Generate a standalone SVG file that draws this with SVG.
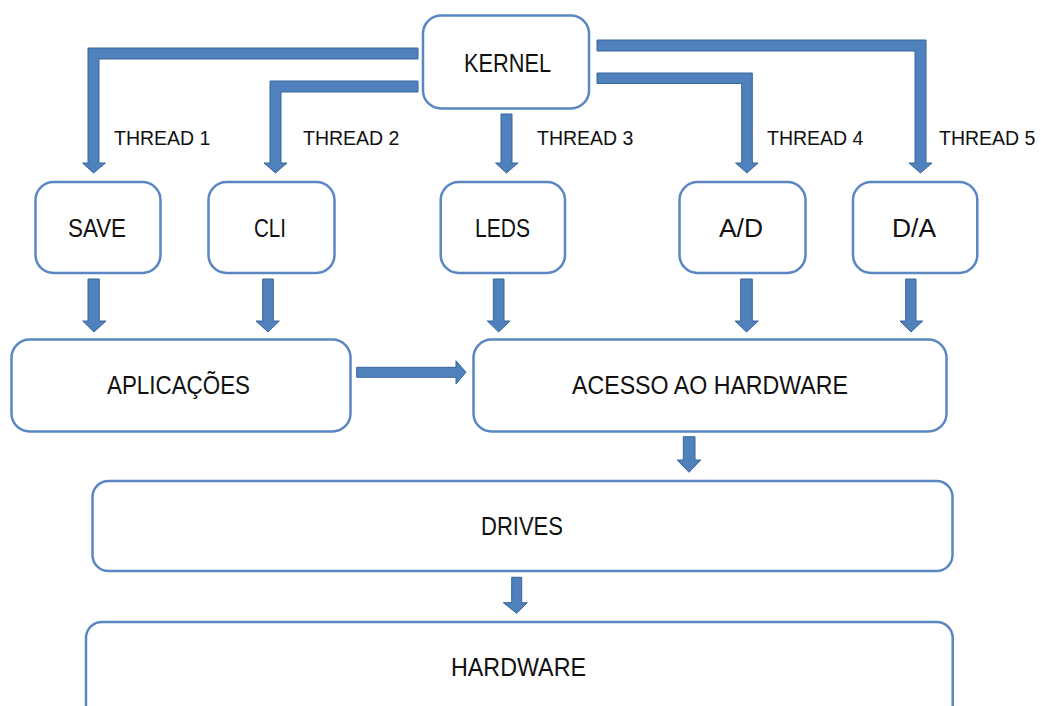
<svg xmlns="http://www.w3.org/2000/svg" width="1041" height="706" viewBox="0 0 1041 706">
<style>
.box{fill:#fff;stroke:#5a87c2;stroke-width:2.5}
.arr{fill:#4f81bd;stroke:#3a649a;stroke-width:1}
.t{font-family:"Liberation Sans",Arial,sans-serif;font-size:25px;fill:#111}
.lb{font-family:"Liberation Sans",Arial,sans-serif;font-size:19.5px;fill:#111}
</style>
<rect width="1041" height="706" fill="#fff"/>
<g id="connectors">
<path class="arr" d="M418,48 H88 V163 H82.5 L93.5,173 L105.5,163 H99 V59 H418 Z"/>
<path class="arr" d="M418,81 H270 V163 H264 L275.5,173 L287,163 H281 V92 H418 Z"/>
<path class="arr" d="M501,114 V163 H495.5 L506.5,173 L518,163 H512 V114 Z"/>
<path class="arr" d="M597,73 H752.3 V163 H758 L747,173 L735.5,163 H741.7 V83.5 H597 Z"/>
<path class="arr" d="M597,40 H926 V163 H932 L920.5,173 L909,163 H915 V51 H597 Z"/>
<path class="arr" d="M88,279 V321 H82.7 L94,332 L106,321 H99.3 V279 Z"/>
<path class="arr" d="M262.7,279 V321 H256 L268,332 L279.3,321 H273.3 V279 Z"/>
<path class="arr" d="M493.3,279 V321 H487.3 L498.7,332 L510,321 H504 V279 Z"/>
<path class="arr" d="M740.7,279 V321 H735 L746.5,332 L758.3,321 H752.3 V279 Z"/>
<path class="arr" d="M905.7,279 V321 H900 L911,332 L922.7,321 H916 V279 Z"/>
<path class="arr" d="M356.7,367.3 H456 V360.7 L466,372.3 L456,384 V377.3 H356.7 Z"/>
<path class="arr" d="M683.3,436.7 V460 H677.3 L689,472.3 L700.7,460 H695 V436.7 Z"/>
<path class="arr" d="M511.7,577.3 V602.7 H503.3 L516.7,613.3 L527.3,602.7 H521.7 V577.3 Z"/>
</g>
<g id="kernel"><rect class="box" x="423" y="15.5" width="166" height="93" rx="18"/><text class="t" x="464" y="72" textLength="87" lengthAdjust="spacingAndGlyphs">KERNEL</text></g>
<g id="save"><rect class="box" x="35.5" y="182" width="125" height="91" rx="18"/><text class="t" x="68" y="237" textLength="58" lengthAdjust="spacingAndGlyphs">SAVE</text></g>
<g id="cli"><rect class="box" x="208.5" y="182" width="126" height="91" rx="18"/><text class="t" x="254" y="237" textLength="32" lengthAdjust="spacingAndGlyphs">CLI</text></g>
<g id="leds"><rect class="box" x="440.7" y="182" width="124.3" height="91" rx="18"/><text class="t" x="475" y="237" textLength="55" lengthAdjust="spacingAndGlyphs">LEDS</text></g>
<g id="ad"><rect class="box" x="679.5" y="182" width="126" height="91" rx="18"/><text class="t" x="719" y="237" textLength="44" lengthAdjust="spacingAndGlyphs">A/D</text></g>
<g id="da"><rect class="box" x="853" y="182" width="124.3" height="91" rx="18"/><text class="t" x="892" y="237" textLength="44" lengthAdjust="spacingAndGlyphs">D/A</text></g>
<g id="aplicacoes"><rect class="box" x="11.5" y="339.5" width="339" height="92" rx="18"/><text class="t" x="107" y="394" textLength="143" lengthAdjust="spacingAndGlyphs">APLICAÇÕES</text></g>
<g id="acesso"><rect class="box" x="473.5" y="339.5" width="473" height="92" rx="18"/><text class="t" x="572" y="394" textLength="276" lengthAdjust="spacingAndGlyphs">ACESSO AO HARDWARE</text></g>
<g id="drives"><rect class="box" x="92.5" y="481" width="860" height="90" rx="16"/><text class="t" x="481" y="535" textLength="82" lengthAdjust="spacingAndGlyphs">DRIVES</text></g>
<g id="hardware"><rect class="box" x="86" y="622" width="866.7" height="100" rx="16"/><text class="t" x="451" y="676" textLength="135" lengthAdjust="spacingAndGlyphs">HARDWARE</text></g>
<g id="labels">
<text class="lb" x="114" y="145">THREAD 1</text>
<text class="lb" x="303" y="145">THREAD 2</text>
<text class="lb" x="537" y="145">THREAD 3</text>
<text class="lb" x="767" y="145">THREAD 4</text>
<text class="lb" x="939" y="145">THREAD 5</text>
</g>
</svg>
